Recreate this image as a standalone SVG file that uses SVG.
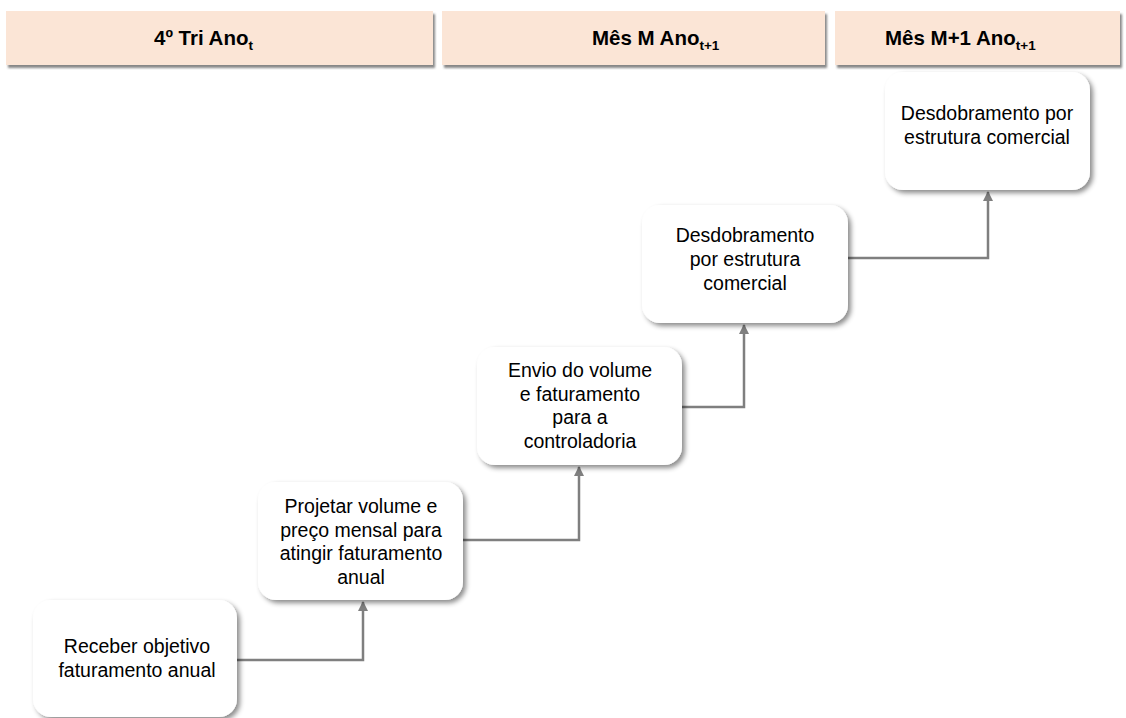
<svg xmlns="http://www.w3.org/2000/svg" width="1126" height="718" viewBox="0 0 1126 718">
<style>
.hdr{fill:#fbe5d6;filter:url(#hs)}
.ht{font-family:"Liberation Sans",Arial,sans-serif;font-weight:bold;font-size:20.5px;fill:#000}
.sub{font-size:13.5px}
.box{fill:#fff;filter:url(#bs)}
.nt{font-family:"Liberation Sans",Arial,sans-serif;font-size:19.5px;fill:#000;text-anchor:middle}
.con{fill:none;stroke:#7f7f7f;stroke-width:2.5;marker-end:url(#arr)}
</style>
<defs>
<filter id="hs" x="-5%" y="-20%" width="110%" height="150%">
<feDropShadow dx="2" dy="3" stdDeviation="1.2" flood-color="#555" flood-opacity="0.7"/>
</filter>
<filter id="bs" x="-10%" y="-10%" width="125%" height="125%">
<feDropShadow dx="3" dy="3" stdDeviation="2.5" flood-color="#000" flood-opacity="0.45"/>
</filter>
<marker id="arr" viewBox="0 0 10 10" refX="9" refY="5" markerWidth="4" markerHeight="4" orient="auto" markerUnits="strokeWidth">
<path d="M0,0 L10,5 L0,10 z" fill="#7f7f7f"/>
</marker>
</defs>
<rect width="1126" height="718" fill="#fff"/>
<g id="headers">
<g id="h1"><rect class="hdr" x="6" y="11" width="427" height="54"/><text class="ht" x="154" y="45">4º Tri Ano<tspan class="sub" dy="5">t</tspan></text></g>
<g id="h2"><rect class="hdr" x="442" y="11" width="383" height="54"/><text class="ht" x="592" y="45">Mês M Ano<tspan class="sub" dy="5">t+1</tspan></text></g>
<g id="h3"><rect class="hdr" x="835" y="11" width="285" height="54"/><text class="ht" x="885" y="45">Mês M+1 Ano<tspan class="sub" dy="5">t+1</tspan></text></g>
</g>
<g id="connectors">
<path class="con" d="M237,660 H363 V602"/>
<path class="con" d="M463,540 H579 V467"/>
<path class="con" d="M682,407 H744 V325"/>
<path class="con" d="M848,258 H988 V192"/>
</g>
<g id="n1"><rect class="box" x="33" y="600" width="204" height="117" rx="18"/>
<text class="nt" x="137" y="653">Receber objetivo</text><text class="nt" x="137" y="677">faturamento anual</text></g>
<g id="n2"><rect class="box" x="258" y="482" width="205" height="118" rx="18"/>
<text class="nt" x="361" y="513">Projetar volume e</text><text class="nt" x="361" y="536.5">preço mensal para</text><text class="nt" x="361" y="560">atingir faturamento</text><text class="nt" x="361" y="583.5">anual</text></g>
<g id="n3"><rect class="box" x="477" y="347" width="205" height="118" rx="18"/>
<text class="nt" x="580" y="377">Envio do volume</text><text class="nt" x="580" y="400.5">e faturamento</text><text class="nt" x="580" y="424">para a</text><text class="nt" x="580" y="447.5">controladoria</text></g>
<g id="n4"><rect class="box" x="642" y="205" width="206" height="118" rx="18"/>
<text class="nt" x="745" y="242">Desdobramento</text><text class="nt" x="745" y="266">por estrutura</text><text class="nt" x="745" y="290">comercial</text></g>
<g id="n5"><rect class="box" x="885" y="72" width="205" height="118" rx="18"/>
<text class="nt" x="987" y="120">Desdobramento por</text><text class="nt" x="987" y="144">estrutura comercial</text></g>
</svg>
